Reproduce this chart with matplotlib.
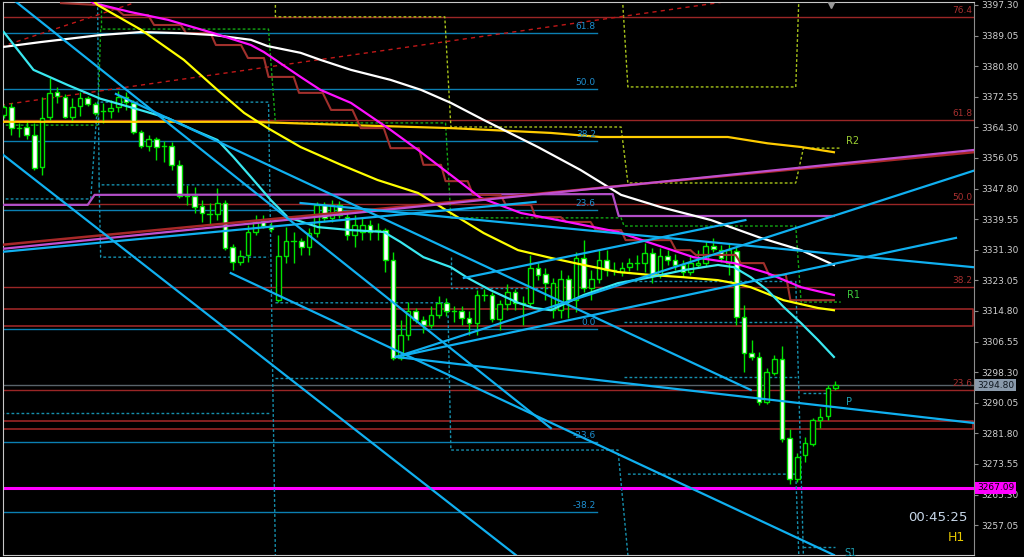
import matplotlib
matplotlib.use("Agg")
import matplotlib.pyplot as plt
from matplotlib.transforms import blended_transform_factory

# H1 candles, oldest first
opens = [3367.6, 3369.8, 3364.1, 3364.4, 3362.2, 3353.6, 3367.1, 3373.8, 3372.5, 3367.1,
         3370.1, 3372.2, 3370.6, 3368.7, 3368.7, 3369.8, 3372.5, 3370.9, 3363.0, 3359.3,
         3361.2, 3359.3, 3359.3, 3354.2, 3345.8, 3345.8, 3343.1, 3340.9, 3340.9, 3343.9,
         3332.0, 3328.0, 3329.9, 3336.1, 3339.0, 3337.7, 3317.7, 3329.6, 3333.6, 3333.6,
         3332.0, 3335.8, 3343.4, 3339.9, 3343.4, 3340.1, 3335.3, 3336.1, 3338.0, 3336.6,
         3336.6, 3328.5, 3302.1, 3308.3, 3314.8, 3312.3, 3311.0, 3313.7, 3317.0, 3314.8,
         3314.8, 3312.9, 3311.5, 3319.1, 3319.1, 3312.6, 3316.7, 3319.9, 3317.0, 3317.0,
         3326.4, 3324.8, 3315.0, 3315.0, 3323.4, 3317.7, 3329.1, 3321.0, 3323.4, 3328.5,
         3325.8, 3325.3, 3326.6, 3327.7, 3327.7, 3330.4, 3324.5, 3329.6, 3328.5, 3327.2,
         3325.3, 3327.2, 3327.7, 3332.3, 3331.2, 3327.7, 3331.0, 3313.2, 3303.4, 3302.4,
         3290.2, 3298.0, 3301.8, 3280.5, 3269.5, 3276.0, 3278.9, 3285.4, 3286.5, 3294.0]
highs = [3370.3, 3370.9, 3365.5, 3366.3, 3365.5, 3372.5, 3377.6, 3375.2, 3373.3, 3372.2,
         3373.8, 3372.8, 3371.2, 3370.9, 3371.7, 3374.1, 3373.8, 3371.7, 3363.6, 3362.2,
         3361.7, 3360.6, 3360.4, 3355.5, 3348.8, 3348.2, 3344.7, 3343.9, 3348.0, 3344.7,
         3332.9, 3331.2, 3338.0, 3340.7, 3340.7, 3338.8, 3335.3, 3337.4, 3336.1, 3334.5,
         3337.2, 3344.2, 3344.2, 3344.7, 3344.4, 3342.0, 3340.7, 3339.9, 3339.3, 3338.5,
         3337.2, 3330.7, 3312.3, 3317.2, 3315.6, 3313.4, 3316.1, 3318.8, 3318.3, 3316.1,
         3316.1, 3314.8, 3320.4, 3320.7, 3319.9, 3317.7, 3322.1, 3320.7, 3318.8, 3329.9,
         3327.7, 3326.4, 3323.7, 3325.8, 3324.5, 3330.7, 3333.9, 3325.8, 3331.2, 3331.2,
         3328.0, 3328.0, 3329.1, 3329.9, 3333.1, 3331.8, 3331.8, 3331.2, 3330.1, 3328.5,
         3329.9, 3331.2, 3333.6, 3334.5, 3332.6, 3333.1, 3332.0, 3316.4, 3307.0, 3303.7,
         3299.4, 3302.9, 3305.3, 3283.0, 3276.5, 3280.8, 3285.9, 3288.6, 3294.8, 3295.9]
lows = [3366.8, 3362.2, 3361.7, 3361.2, 3352.8, 3351.4, 3366.3, 3370.9, 3366.8, 3365.8,
        3367.4, 3370.1, 3367.6, 3365.5, 3366.8, 3368.4, 3369.0, 3362.5, 3358.7, 3357.9,
        3355.5, 3355.0, 3352.8, 3345.3, 3343.4, 3341.2, 3338.8, 3338.0, 3339.3, 3331.2,
        3325.8, 3327.2, 3328.0, 3335.3, 3337.2, 3336.1, 3317.2, 3327.7, 3327.7, 3329.9,
        3329.9, 3334.7, 3338.8, 3338.8, 3339.9, 3333.9, 3332.0, 3333.9, 3333.9, 3333.9,
        3325.3, 3301.6, 3301.6, 3307.0, 3311.5, 3308.8, 3310.2, 3312.9, 3313.4, 3311.8,
        3311.0, 3308.3, 3308.3, 3317.5, 3311.8, 3309.7, 3315.0, 3315.0, 3311.0, 3316.1,
        3323.1, 3317.7, 3312.9, 3312.9, 3312.9, 3314.5, 3319.9, 3317.7, 3322.3, 3324.2,
        3324.5, 3324.2, 3325.6, 3325.8, 3325.3, 3322.3, 3323.7, 3327.2, 3325.8, 3323.9,
        3324.5, 3326.4, 3326.9, 3330.7, 3328.0, 3324.5, 3311.0, 3298.3, 3301.6, 3289.4,
        3289.7, 3297.5, 3279.4, 3268.1, 3268.7, 3274.0, 3278.4, 3283.2, 3285.4, 3293.5]
closes = [3369.8, 3364.1, 3364.3, 3362.2, 3353.3, 3366.8, 3373.6, 3372.8, 3367.1, 3369.8,
          3372.2, 3370.6, 3368.2, 3368.6, 3369.5, 3372.5, 3371.1, 3363.0, 3359.3, 3361.2,
          3359.0, 3359.1, 3354.2, 3345.8, 3345.6, 3342.8, 3341.2, 3340.8, 3343.9, 3331.8,
          3328.0, 3329.6, 3336.1, 3338.8, 3337.7, 3336.9, 3329.6, 3333.6, 3333.5, 3332.0,
          3335.8, 3343.4, 3339.9, 3343.4, 3340.7, 3335.3, 3338.0, 3338.0, 3336.1, 3336.5,
          3328.5, 3302.1, 3308.3, 3314.8, 3312.3, 3311.0, 3313.7, 3317.0, 3314.8, 3314.7,
          3312.9, 3311.5, 3319.1, 3318.9, 3312.6, 3316.7, 3319.9, 3317.0, 3316.8, 3326.4,
          3324.5, 3322.3, 3322.3, 3323.4, 3317.7, 3329.1, 3321.0, 3323.4, 3328.5, 3325.8,
          3325.7, 3326.4, 3327.7, 3327.6, 3330.4, 3324.5, 3329.6, 3328.5, 3327.2, 3325.3,
          3327.7, 3327.7, 3332.3, 3331.5, 3329.1, 3331.2, 3313.2, 3303.4, 3302.4, 3290.2,
          3298.3, 3301.8, 3280.3, 3269.5, 3275.4, 3279.2, 3285.4, 3286.2, 3294.0, 3294.8]

price_ticks = [3397.30, 3389.05, 3380.80, 3372.55, 3364.30, 3356.05, 3347.80, 3339.55, 3331.30,
               3323.05, 3314.80, 3306.55, 3298.30, 3290.05, 3281.80, 3273.55, 3265.30, 3257.05]
last_price = 3294.80
magenta_level = 3267.09

# moving averages as (bar, price)
ma_white = [(0, 3386.0), (4.85, 3387.3), (12.7, 3389.2), (18.0, 3390.0), (23.2, 3389.7), (27.5, 3389.2),
            (32.4, 3387.9), (34.6, 3386.2), (38.9, 3384.4), (41.5, 3382.5), (45.5, 3379.8), (50.7, 3377.1),
            (54.7, 3374.4), (58.6, 3370.9), (62.9, 3366.3), (70.0, 3359.0), (75.6, 3352.8), (80.9, 3346.1),
            (86.1, 3342.8), (92.7, 3339.3), (99.2, 3334.5), (104.5, 3331.2), (108.8, 3327.2)]
ma_magenta = [(10.1, 3400.0), (11.8, 3397.8), (16.6, 3395.4), (21.5, 3393.3), (27.5, 3389.7), (32.4, 3386.5),
              (34.1, 3384.6), (38.9, 3377.9), (41.5, 3374.4), (45.5, 3370.9), (50.7, 3363.6), (54.3, 3358.2),
              (58.6, 3351.45), (62.5, 3345.3), (67.8, 3341.2), (73.9, 3338.8), (80.5, 3336.1), (84.8, 3333.1),
              (90.4, 3329.3), (95.7, 3327.7), (100.1, 3325.0), (104.5, 3321.2), (108.8, 3319.1)]
ma_yellow = [(11.4, 3399.2), (12.3, 3397.3), (18.0, 3390.6), (23.6, 3382.5), (28.0, 3374.4), (31.5, 3368.2),
             (34.6, 3364.1), (38.9, 3359.0), (44.2, 3354.2), (49.0, 3350.1), (54.3, 3346.6), (58.6, 3341.2),
             (62.9, 3335.8), (67.4, 3331.2), (71.7, 3329.1), (76.0, 3327.2), (80.5, 3325.3), (84.8, 3324.5),
             (89.1, 3323.9), (93.6, 3323.1), (95.7, 3322.3), (97.9, 3321.2), (102.2, 3317.7), (106.7, 3315.6),
             (108.8, 3315.0)]
ma_cyan = [(0, 3390.0), (3.9, 3379.8), (8.4, 3375.7), (12.7, 3372.0), (17.0, 3369.5), (21.5, 3366.8),
           (24.9, 3363.6), (28.0, 3360.9), (30.1, 3356.3), (32.4, 3350.9), (35.0, 3344.7), (37.2, 3340.1),
           (41.2, 3337.4), (45.5, 3336.6), (49.8, 3336.1), (52.0, 3333.4), (55.0, 3329.3), (58.6, 3326.6),
           (60.8, 3323.7), (63.8, 3320.4), (67.4, 3317.0), (69.5, 3315.6), (71.7, 3315.0), (76.0, 3319.1),
           (80.5, 3322.3), (84.8, 3323.9), (89.1, 3325.8), (93.6, 3327.2), (95.7, 3326.6), (97.9, 3323.9),
           (100.1, 3320.4), (102.2, 3315.9), (104.5, 3311.5), (106.7, 3307.0), (108.8, 3302.4)]
ma_gold = [(-0.4, 3365.8), (32.4, 3365.8), (45.5, 3364.9), (58.6, 3364.1), (71.7, 3362.8), (78.2, 3361.7),
           (94.9, 3361.7), (100.1, 3360.0), (104.5, 3359.0), (108.8, 3357.6)]
step_purple = [(-0.4, 3343.4), (11.0, 3343.4), (11.9, 3346.1), (79.8, 3346.3), (80.6, 3340.4), (108.8, 3340.4)]
step_brown = [(7.5, 3397.8), (12.3, 3397.3), (14.9, 3396.0), (15.7, 3394.6), (18.9, 3394.6), (19.7, 3391.9),
              (23.2, 3391.9), (23.9, 3389.7), (27.1, 3389.7), (27.8, 3386.5), (31.1, 3386.5), (32.0, 3383.0),
              (34.1, 3383.0), (34.7, 3377.9), (38.0, 3377.9), (38.7, 3373.6), (41.8, 3373.6), (42.9, 3369.0),
              (45.7, 3369.0), (46.8, 3364.1), (49.8, 3364.1), (50.7, 3358.7), (54.4, 3358.7), (55.0, 3354.2),
              (57.3, 3354.2), (57.9, 3349.8), (60.8, 3349.8), (61.5, 3346.1), (65.1, 3346.1), (65.8, 3343.4),
              (69.1, 3343.4), (69.7, 3340.1), (73.0, 3340.1), (73.7, 3338.8), (76.9, 3338.8), (77.6, 3336.6),
              (80.9, 3336.6), (81.5, 3333.9), (87.4, 3333.9), (88.1, 3331.2), (90.0, 3331.2), (90.7, 3329.9),
              (95.9, 3329.9), (96.6, 3327.7), (99.6, 3327.7), (100.3, 3324.5), (102.5, 3324.5), (103.1, 3317.7),
              (108.8, 3317.7)]

# trend lines (start, end)
blue_lines = [((1.3, 3398.65), (71.7, 3283.2)),
              ((-0.4, 3357.4), (67.1, 3249.0)),
              ((51.4, 3302.4), (127.4, 3352.8)),
              ((51.4, 3302.4), (124.8, 3334.5)),
              ((51.4, 3302.4), (127.1, 3284.6)),
              ((29.75, 3325.0), (108.8, 3249.0)),
              ((14.7, 3373.3), (97.9, 3293.5)),
              ((-0.4, 3330.7), (69.7, 3344.2)),
              ((60.3, 3323.7), (97.2, 3339.3)),
              ((38.9, 3343.9), (127.1, 3326.6))]
channel_red = ((-0.4, 3332.6), (127.1, 3357.6))
channel_violet = ((-0.4, 3331.5), (127.1, 3358.2))
red_dash = [((-0.4, 3386.0), (17.0, 3397.8)), ((-0.4, 3370.3), (94.0, 3398.0))]

# fibonacci levels
red_fib = [("76.4", 3394.1), ("61.8", 3366.3), ("50.0", 3343.6), ("38.2", 3321.2), ("23.6", 3293.5)]
red_boxes = [(3315.2, 3310.8), (3285.2, 3282.95)]
blue_fib = [("61.8", 3389.8), ("50.0", 3374.6), ("38.2", 3360.7), ("23.6", 3342.0),
            ("0.0", 3310.05), ("-23.6", 3279.4), ("-38.2", 3260.6)]
blue_fib_end = 77.7

# daily pivot dotted paths
piv_yellow = [[(35.6, 3398.65), (35.6, 3394.1), (57.8, 3394.1), (58.6, 3364.4), (80.9, 3364.4),
               (81.8, 3349.3), (103.8, 3349.3), (104.8, 3358.7), (109.7, 3358.7)],
              [(81.1, 3398.65), (81.8, 3375.2), (103.8, 3375.2), (104.2, 3398.65)]]
piv_green = [[(-0.4, 3364.9), (12.3, 3364.9), (12.7, 3390.8), (34.7, 3390.8), (35.6, 3365.5), (57.9, 3365.5),
              (58.6, 3339.9), (80.9, 3339.9), (81.3, 3337.7), (103.8, 3337.7), (104.5, 3317.2),
              (109.7, 3317.2)],
             [(12.7, 3398.65), (12.7, 3390.8)]]
piv_teal = [[(-0.4, 3345.0), (11.4, 3345.0), (12.3, 3371.1), (34.7, 3371.1), (35.6, 3249.0)],
            [(12.3, 3398.0), (12.5, 3348.8), (34.7, 3348.8)],
            [(12.5, 3348.8), (12.7, 3329.3), (34.7, 3329.3)],
            [(-0.4, 3287.3), (34.7, 3287.3)],
            [(35.6, 3317.0), (58.2, 3317.0), (58.6, 3277.3), (80.5, 3277.3), (81.8, 3249.0)],
            [(35.6, 3296.7), (58.2, 3296.7)],
            [(58.6, 3329.3), (58.6, 3321.0), (71.7, 3321.0)],
            [(81.3, 3322.9), (103.6, 3322.9)],
            [(81.3, 3311.8), (103.8, 3311.8)],
            [(81.3, 3297.0), (103.8, 3297.0)],
            [(81.8, 3270.8), (103.8, 3270.8), (104.2, 3249.0)],
            [(103.8, 3322.9), (104.8, 3249.0)],
            [(104.8, 3292.6), (108.4, 3292.6)],
            [(104.8, 3251.1), (109.0, 3251.1)]]
piv_labels = [("R2", 110.4, 3360.6, "#9acd32"), ("R1", 110.5, 3319.0, "#3cc83c"),
              ("P", 110.4, 3290.2, "#1ea0b4"), ("S1", 110.2, 3249.6, "#1ea0b4")]

BG = "black"
fig = plt.figure(figsize=(10.24, 5.57), dpi=100, facecolor=BG)
ax = fig.add_axes([3 / 1024, 2 / 557, 971 / 1024, 553 / 557])
ax.set_facecolor(BG)
ax.set_xlim(-0.1, 127.16)
ax.set_ylim(3249.0, 3398.1)

# horizontal levels
for name, lvl in blue_fib:
    ax.plot([-0.4, blue_fib_end], [lvl, lvl], color="#0b7fb2", lw=1.0, zorder=2)
    ax.text(blue_fib_end - 0.1, lvl + 0.5, name, color="#1e8fd0", fontsize=6.5, ha="right", va="bottom", zorder=6)
for name, lvl in red_fib:
    ax.axhline(lvl, color="#9a2626", lw=1.0, zorder=2)
    ax.text(126.9, lvl + 0.5, name, color="#a83030", fontsize=6.5, ha="right", va="bottom", zorder=6)
for top, bot in red_boxes:
    ax.plot([-0.4, 127.0, 127.0, -0.4], [top, top, bot, bot], color="#9a2626", lw=1.2, zorder=2)
ax.axhline(last_price, color="#59636b", lw=1.0, zorder=2)
ax.axhline(magenta_level, color="#ff00ff", lw=2.2, zorder=2)

# pivots
dots = (0, (2.0, 1.6))
for path in piv_yellow:
    ax.plot(*zip(*path), color="#a8c41a", lw=1.0, ls=dots, zorder=2)
for path in piv_green:
    ax.plot(*zip(*path), color="#13a813", lw=1.0, ls=dots, zorder=2)
for path in piv_teal:
    ax.plot(*zip(*path), color="#1690ae", lw=1.0, ls=dots, zorder=2)
for name, bx, by, col in piv_labels:
    ax.text(bx, by, name, color=col, fontsize=7, ha="left", va="center", zorder=6)

# candles
idx = list(range(len(opens)))
ax.vlines(idx, lows, highs, color="#00e400", lw=1.0, zorder=3)
for i in idx:
    o, c = opens[i], closes[i]
    lo, hi = min(o, c), max(o, c)
    if hi - lo < 0.35:
        ax.plot([i - 0.3, i + 0.3], [o, o], color="#00e400", lw=1.0, zorder=4)
        continue
    face = "white" if c < o else "black"
    ax.bar(i, hi - lo, bottom=lo, width=0.6, color=face, edgecolor="#00e400", lw=1.0, zorder=4)

# indicators
for pts, col, w in [(ma_gold, "#ffcc00", 1.6), (step_purple, "#b24fc8", 1.6), (step_brown, "#a0302c", 1.5),
                    (ma_white, "white", 1.6), (ma_magenta, "#ff10ff", 1.6), (ma_yellow, "#ffff00", 1.6),
                    (ma_cyan, "#3ae8f0", 1.6)]:
    ax.plot(*zip(*pts), color=col, lw=w, zorder=5, solid_joinstyle="round")

for (p0, p1) in red_dash:
    ax.plot([p0[0], p1[0]], [p0[1], p1[1]], color="#c01818", lw=1.0, ls=(0, (3, 3)), zorder=2)
ax.plot(*zip(*channel_red), color="#a82828", lw=1.8, zorder=5)
ax.plot(*zip(*channel_violet), color="#c050d0", lw=1.6, zorder=5)
for (p0, p1) in blue_lines:
    ax.plot([p0[0], p1[0]], [p0[1], p1[1]], color="#10b0f0", lw=1.6, zorder=5)

ax.plot([108.4], [3397.6], marker="v", color="#9a9a9a", ms=6, zorder=6)

# price scale
ax.yaxis.tick_right()
ax.set_yticks(price_ticks)
ax.set_yticklabels(["%.2f" % t for t in price_ticks])
ax.tick_params(axis="y", colors="#8c8c8c", labelcolor="#d0d0d0", labelsize=6.5, length=3, pad=2)
ax.set_xticks([])
for side in ["left", "top", "bottom"]:
    ax.spines[side].set_color("#c8c8c8")
ax.spines["right"].set_color("#8c8c8c")

tr = blended_transform_factory(ax.transAxes, ax.transData)
ax.text(1.003, last_price, "%.2f" % last_price, transform=tr, fontsize=6.5, color="#101820",
        va="center", ha="left", bbox=dict(boxstyle="square,pad=0.2", fc="#8a9aab", ec="none"), clip_on=False, zorder=7)
ax.text(1.003, magenta_level, "%.2f" % magenta_level, transform=tr, fontsize=6.5, color="black",
        va="center", ha="left", bbox=dict(boxstyle="square,pad=0.2", fc="#ff00ff", ec="none"), clip_on=False, zorder=7)

ax.text(0.963, 0.067, "00:45:25", transform=ax.transAxes, fontsize=9.5, color="#c8d8ea", ha="center", va="center")
ax.text(0.982, 0.031, "H1", transform=ax.transAxes, fontsize=9, color="#e6c800", ha="center", va="center")

fig.savefig("out.png", dpi=100, facecolor=BG)
